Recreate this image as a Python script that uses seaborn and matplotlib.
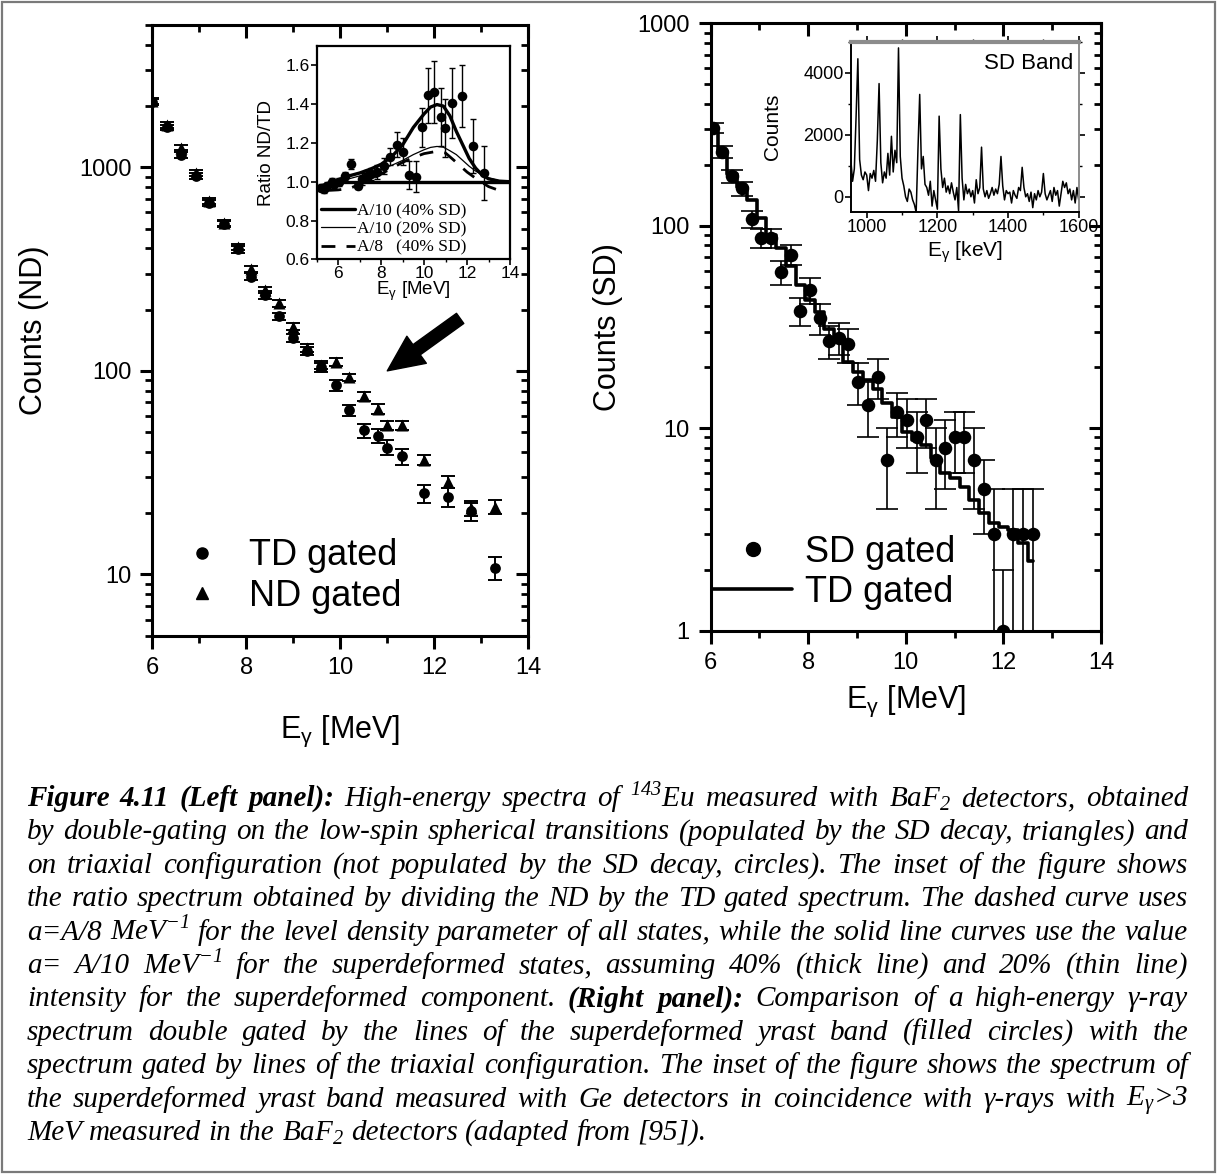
import numpy as np
import matplotlib
matplotlib.use("Agg")
import matplotlib.pyplot as plt
import seaborn as sns
from matplotlib.ticker import MultipleLocator, LogLocator, NullFormatter, FixedLocator
from matplotlib.lines import Line2D
from matplotlib.patches import Rectangle

# ---------------- left panel: high-energy spectra (ND vs TD gated) ----------------
e_left = [6.0, 6.31, 6.6, 6.92, 7.2, 7.52, 7.82, 8.1, 8.4, 8.7, 9.0, 9.3,
          9.59, 9.9, 10.19, 10.5, 10.8, 10.99, 11.31, 11.79, 12.3, 12.78, 13.3]
td_counts = [2090, 1570, 1150, 910, 670, 525, 395, 290, 236, 185, 145, 125,
             104, 85, 64, 51, 48, 42, 38, 25, 24, 20.4, 10.8]
td_err = [70, 50, 40, 30, 22, 18, 14, 11, 10, 8, 7, 6,
          5, 5, 4, 4, 4, 3.5, 3.5, 2.5, 2.5, 2.0, 1.4]
nd_counts = [2110, 1610, 1250, 940, 685, 535, 405, 318, 250, 215, 165, 130,
             107, 111, 93, 75, 65, 54, 54, 36.6, 28.6, 21.1, 21.5]
nd_err = [70, 50, 40, 30, 22, 18, 14, 11, 9, 8, 7, 6,
          5, 5, 4, 4, 3.5, 3, 3, 2, 2, 1.8, 1.6]

# inset: ND/TD ratio with statistical-model curves
ratio_e = [5.2, 5.35, 5.5, 5.69, 5.81, 6.05, 6.32, 6.59, 6.9, 7.13, 7.36, 7.54, 7.82, 8.13,
           8.41, 8.72, 9.01, 9.32, 9.61, 9.91, 10.19, 10.45, 10.79, 10.99, 11.3, 11.76, 12.27, 12.81]
ratio_val = [0.97, 0.96, 0.98, 1.0, 0.99, 1.0, 1.03, 1.09, 0.98, 1.015, 1.03, 1.04, 1.05, 1.08,
             1.13, 1.19, 1.155, 1.035, 1.025, 1.28, 1.445, 1.465, 1.335, 1.275, 1.405, 1.44, 1.185, 1.045]
ratio_err = [0.02, 0.02, 0.02, 0.02, 0.02, 0.02, 0.02, 0.025, 0.02, 0.03, 0.03, 0.03, 0.035, 0.04,
             0.045, 0.065, 0.07, 0.07, 0.08, 0.1, 0.14, 0.16, 0.15, 0.15, 0.18, 0.16, 0.14, 0.14]

curve_e = [5.0, 5.5, 6.0, 6.5, 7.0, 7.5, 8.0, 8.5, 9.0, 9.5, 10.0, 10.3,
           10.6, 10.9, 11.2, 11.5, 11.8, 12.1, 12.4, 12.7, 13.0, 13.5, 14.0]
a10_sd40 = [0.97, 0.99, 1.01, 1.03, 1.045, 1.065, 1.09, 1.13, 1.19, 1.28, 1.35, 1.385,
            1.398, 1.39, 1.34, 1.26, 1.19, 1.12, 1.07, 1.035, 1.015, 1.003, 1.0]
a10_sd20 = [0.97, 0.985, 1.0, 1.015, 1.03, 1.045, 1.065, 1.085, 1.11, 1.14, 1.165, 1.177,
            1.182, 1.178, 1.16, 1.14, 1.11, 1.08, 1.055, 1.035, 1.02, 1.005, 1.0]
a8_e = [5.5, 6.0, 6.5, 7.0, 7.5, 8.0, 8.5, 9.0, 9.5, 10.0, 10.5, 11.0, 11.5, 12.0, 12.5, 13.0, 13.5]
a8_sd40 = [0.955, 0.958, 0.965, 0.985, 1.01, 1.04, 1.07, 1.10, 1.125, 1.145, 1.155, 1.148,
           1.10, 1.05, 1.01, 0.975, 0.955]
unity_e = [6.0, 14.0]
unity_val = [1.0, 1.0]

# ---------------- right panel: SD gated spectrum vs TD gated ----------------
e_right = [6.04, 6.24, 6.44, 6.64, 6.84, 7.04, 7.24, 7.44, 7.64, 7.84, 8.04, 8.24,
           8.42, 8.62, 8.82, 9.02, 9.22, 9.42, 9.62, 9.82, 10.02, 10.22, 10.42, 10.62,
           10.8, 11.0, 11.2, 11.4, 11.6, 11.8, 12.0, 12.2, 12.4, 12.6]
sd_counts = [303, 232, 176, 153, 108, 87, 87, 59, 72, 38, 48, 35,
             27, 28, 26, 17, 13, 18, 7, 12, 11, 9, 11, 7,
             8, 9, 9, 7, 5, 3, 1, 3, 3, 3]
sd_err = [17, 15, 13, 12, 10, 9, 9, 8, 8, 6, 7, 6,
          5, 5, 5, 4, 4, 4, 3, 3, 3, 3, 3, 3,
          3, 3, 3, 3, 2, 2, 1, 2, 2, 2]
td_scaled = [290, 235, 181, 155, 134, 109, 90, 78, 63, 51, 43, 37.6,
             31, 27, 21.3, 18.9, 17.4, 15.7, 13.3, 11.3, 9.6, 8.7, 8.3, 7.1,
             6.0, 5.7, 5.1, 4.4, 3.8, 3.4, 3.26, 3.14, 2.7, 2.2]

# inset: Ge spectrum of the SD band (5 keV channels from 955 keV)
spec_start_kev = 955
spec_step_kev = 5
spec_counts = [
    1200, 500, 900, 2600, 4450, 1200, 700, 550, 800, 700,
    200, 750, 600, 850, 500, 1800, 3650, 1100, 450, 800,
    600, 1400, 700, 1950, 800, 1500, 1100, 4800, 1300, 600,
    350, 0, -150, 250, 150, -100, -250, -500, 1500, 3300,
    900, 1300, 400, 300, 50, 500, -300, 200, -100, -400,
    2600, 900, 300, 600, 150, 350, 100, 450, 150, -100,
    300, -450, 2650, 600, -100, 400, 100, 250, 0, 200,
    -200, 550, 100, 300, 1600, 250, 0, 200, -50, 100,
    300, 50, 250, 100, 400, 1300, 350, -100, 200, 100,
    150, -200, 200, 50, -50, 300, 200, 950, 300, 0,
    100, -150, 150, -350, 100, -100, 200, 0, 150, 750,
    100, -100, 50, 200, -150, 300, 50, 200, -300, 100,
    500, 300, 450, 100, 250, -100, 200, -200, 300, -100]
spec_kev = spec_start_kev + spec_step_kev * np.arange(len(spec_counts))

# ---------------- caption ----------------
caption_lines = [
    [("Figure 4.11 (Left panel):", True),
     (" High-energy spectra of $^\\mathregular{143}$Eu measured with BaF$_\\mathregular{2}$ detectors, obtained", False)],
    [("by double-gating on the low-spin spherical transitions (populated by the SD decay, triangles) and", False)],
    [("on triaxial configuration (not populated by the SD decay, circles). The inset of the figure shows", False)],
    [("the ratio spectrum obtained by dividing the ND by the TD gated spectrum. The dashed curve uses", False)],
    [("a=A/8 MeV$^\\mathregular{-1}$ for the level density parameter of all states, while the solid line curves use the value", False)],
    [("a= A/10 MeV$^\\mathregular{-1}$ for the superdeformed states, assuming 40% (thick line) and 20% (thin line)", False)],
    [("intensity for the superdeformed component.", False), ("(Right panel):", True),
     ("Comparison of a high-energy γ-ray", False)],
    [("spectrum double gated by the lines of the superdeformed yrast band (filled circles) with the", False)],
    [("spectrum gated by lines of the triaxial configuration. The inset of the figure shows the spectrum of", False)],
    [("the superdeformed yrast band measured with Ge detectors in coincidence with γ-rays with E$_\\mathregular{γ}$>3", False)],
    [("MeV measured in the BaF$_\\mathregular{2}$ detectors (adapted from [95]).", False)],
]

sns.set_style("ticks")
plt.rcParams["font.family"] = ["Liberation Sans", "DejaVu Sans"]
plt.rcParams["axes.linewidth"] = 2.2
plt.rcParams["axes.edgecolor"] = "black"
plt.rcParams["xtick.color"] = "black"
plt.rcParams["ytick.color"] = "black"
plt.rcParams["text.color"] = "black"
plt.rcParams["axes.labelcolor"] = "black"

W, H = 1217, 1176
fig = plt.figure(figsize=(W / 100, H / 100), dpi=100)


def px_axes(x0, y0, x1, y1):
    return fig.add_axes([x0 / W, 1 - y1 / H, (x1 - x0) / W, (y1 - y0) / H])


def mirror_ticks(ax, xmaj, xmin, ylim):
    tx = ax.twiny()
    tx.set_xlim(ax.get_xlim())
    tx.xaxis.set_major_locator(MultipleLocator(xmaj))
    tx.xaxis.set_minor_locator(MultipleLocator(xmin))
    tx.tick_params(axis="x", which="both", direction="in", top=True, bottom=False,
                   labeltop=False, labelbottom=False)
    tx.tick_params(axis="x", which="major", length=9, width=2.2)
    tx.tick_params(axis="x", which="minor", length=5, width=2.0)
    ty = ax.twinx()
    ty.set_yscale("log")
    ty.set_ylim(ylim)
    ty.yaxis.set_major_locator(LogLocator(base=10))
    ty.yaxis.set_minor_locator(LogLocator(base=10, subs=range(2, 10)))
    ty.yaxis.set_minor_formatter(NullFormatter())
    ty.tick_params(axis="y", which="both", direction="in", right=True, left=False,
                   labelright=False, labelleft=False)
    ty.tick_params(axis="y", which="major", length=9, width=2.2)
    ty.tick_params(axis="y", which="minor", length=5, width=2.0)
    for t in (tx, ty):
        for s in t.spines.values():
            s.set_visible(False)


def style_main(ax, yticks, ylim):
    ax.set_xlim(6, 14)
    ax.set_yscale("log")
    ax.set_ylim(ylim)
    mirror_ticks(ax, 2, 1, ylim)
    ax.xaxis.set_major_locator(MultipleLocator(2))
    ax.xaxis.set_minor_locator(MultipleLocator(1))
    ax.yaxis.set_major_locator(FixedLocator(yticks))
    ax.set_yticklabels([str(t) for t in yticks])
    ax.yaxis.set_minor_locator(LogLocator(base=10, subs=range(2, 10)))
    ax.yaxis.set_minor_formatter(NullFormatter())
    ax.tick_params(which="both", direction="out", top=False, right=False, labelsize=17)
    ax.tick_params(which="major", length=9, width=2.2, pad=6)
    ax.tick_params(which="minor", length=5, width=2.0)
    for s in ax.spines.values():
        s.set_visible(True)
        s.set_linewidth(2.2)


# ---- left main panel ----
axL = px_axes(152.3, 25, 528.3, 635.7)
style_main(axL, [10, 100, 1000], (5, 5000))
axL.errorbar(e_left, td_counts, yerr=td_err, fmt="none", ecolor="black",
             elinewidth=1.4, capsize=5, capthick=1.4, zorder=2)
axL.errorbar(e_left, nd_counts, yerr=nd_err, fmt="none", ecolor="black",
             elinewidth=1.4, capsize=5, capthick=1.4, zorder=2)
sns.scatterplot(x=e_left, y=td_counts, marker="o", s=60, color="black",
                edgecolor="black", linewidth=0, ax=axL, zorder=3)
sns.scatterplot(x=e_left, y=nd_counts, marker="^", s=75, color="black",
                edgecolor="black", linewidth=0, ax=axL, zorder=3)
axL.set_xlabel("E$_\\mathregular{γ}$ [MeV]", fontsize=22)
axL.set_ylabel("Counts (ND)", fontsize=22)
axL.xaxis.set_label_coords(0.5, -0.128)
axL.yaxis.set_label_coords(-0.275, 0.5)
axL.annotate("", xy=(11.0, 100), xytext=(12.55, 181),
             arrowprops=dict(arrowstyle="simple,head_length=1.3,head_width=1.2,tail_width=0.45",
                             mutation_scale=20, color="black", shrinkA=0, shrinkB=0))
handles_l = [Line2D([], [], marker="o", ls="none", color="black", markersize=8),
             Line2D([], [], marker="^", ls="none", color="black", markersize=9)]
axL.legend(handles_l, ["TD gated", "ND gated"], loc="center left",
           bbox_to_anchor=(0.085, 0.098), frameon=False, fontsize=26,
           handlelength=1.0, handletextpad=0.8, labelspacing=0.15,
           borderpad=0, borderaxespad=0)

# ---- left inset: ratio ----
axI = px_axes(316.7, 46, 510, 259.3)
axI.set_zorder(5)
axI.errorbar(ratio_e, ratio_val, yerr=ratio_err, fmt="none", ecolor="black",
             elinewidth=1.0, capsize=2.5, capthick=1.0, zorder=2)
sns.scatterplot(x=ratio_e, y=ratio_val, marker="o", s=48, color="black",
                linewidth=0, ax=axI, zorder=3)
sns.lineplot(x=unity_e, y=unity_val, color="black", lw=2.4, ax=axI, errorbar=None)
sns.lineplot(x=curve_e, y=a10_sd40, color="black", lw=2.4, ax=axI, errorbar=None)
sns.lineplot(x=curve_e, y=a10_sd20, color="black", lw=0.9, ax=axI, errorbar=None)
sns.lineplot(x=a8_e, y=a8_sd40, color="black", lw=2.0, ax=axI, errorbar=None,
             dashes=False, linestyle=(0, (5, 4)))
axI.set_xlim(5, 14)
axI.set_ylim(0.6, 1.7)
axI.xaxis.set_major_locator(MultipleLocator(2))
axI.xaxis.set_minor_locator(MultipleLocator(1))
axI.yaxis.set_major_locator(FixedLocator([0.6, 0.8, 1.0, 1.2, 1.4, 1.6]))
axI.set_yticklabels(["0.6", "0.8", "1.0", "1.2", "1.4", "1.6"])
axI.tick_params(which="both", direction="out", labelsize=12.5, pad=1)
axI.tick_params(which="major", length=4, width=1.2)
axI.tick_params(which="minor", length=2.5, width=1.0)
for s in axI.spines.values():
    s.set_visible(True)
    s.set_linewidth(1.6)
axI.set_xlabel("E$_\\mathregular{γ}$ [MeV]", fontsize=13.5, labelpad=0)
axI.set_ylabel("Ratio ND/TD", fontsize=13.5)
axI.xaxis.set_label_coords(0.5, -0.095)
axI.yaxis.set_label_coords(-0.215, 0.5)
handles_i = [Line2D([], [], color="black", lw=2.4),
             Line2D([], [], color="black", lw=0.9),
             Line2D([], [], color="black", lw=2.0, ls=(0, (5, 4)))]
axI.legend(handles_i, ["A/10 (40% SD)", "A/10 (20% SD)", "A/8   (40% SD)"],
           loc="center left", bbox_to_anchor=(0.02, 0.14), frameon=False,
           prop={"family": "Liberation Serif", "size": 12.5},
           handlelength=2.0, handletextpad=0.1, labelspacing=0.12,
           borderpad=0, borderaxespad=0)

# ---- right main panel ----
axR = px_axes(710.7, 23.3, 1101, 630.7)
style_main(axR, [1, 10, 100, 1000], (1, 1000))
sns.lineplot(x=e_right, y=td_scaled, color="black", lw=2.6, ax=axR,
             errorbar=None, drawstyle="steps-mid", zorder=2)
axR.errorbar(e_right, sd_counts, yerr=sd_err, fmt="none", ecolor="black",
             elinewidth=1.2, capsize=8, capthick=1.2, zorder=3)
sns.scatterplot(x=e_right, y=sd_counts, marker="o", s=95, color="black",
                linewidth=0, ax=axR, zorder=4)
axR.set_xlabel("E$_\\mathregular{γ}$ [MeV]", fontsize=22)
axR.set_ylabel("Counts (SD)", fontsize=22)
axR.xaxis.set_label_coords(0.5, -0.087)
axR.yaxis.set_label_coords(-0.225, 0.5)
handles_r = [Line2D([], [], marker="o", ls="none", color="black", markersize=10),
             Line2D([], [], color="black", lw=2.6)]
axR.legend(handles_r, ["SD gated", "TD gated"], loc="center left",
           bbox_to_anchor=(0.006, 0.096), frameon=False, fontsize=26,
           handlelength=2.2, handletextpad=0.35, labelspacing=0.15,
           borderpad=0, borderaxespad=0)

# ---- right inset: SD band spectrum ----
axS = px_axes(850.8, 41.7, 1078.7, 212.3)
axS.set_zorder(5)
sns.lineplot(x=spec_kev, y=spec_counts, color="black", lw=1.1, ax=axS, errorbar=None)
axS.set_xlim(955, 1600)
axS.set_ylim(-500, 5000)
axS.xaxis.set_major_locator(MultipleLocator(200))
axS.xaxis.set_minor_locator(MultipleLocator(100))
axS.yaxis.set_major_locator(FixedLocator([0, 2000, 4000]))
axS.yaxis.set_minor_locator(MultipleLocator(1000))
axS.set_yticklabels(["0", "2000", "4000"])
axS.tick_params(which="both", direction="out", labelsize=13, pad=1,
                top=True, right=True)
axS.tick_params(which="major", length=4, width=1.2)
axS.tick_params(which="minor", length=2.5, width=1.0)
for s in axS.spines.values():
    s.set_visible(True)
    s.set_linewidth(1.4)
axS.spines["top"].set_color("#8c8c8c")
axS.spines["top"].set_linewidth(3)
axS.spines["right"].set_color("#8c8c8c")
axS.set_xlabel("E$_\\mathregular{γ}$ [keV]", fontsize=15)
axS.set_ylabel("Counts", fontsize=15)
axS.xaxis.set_label_coords(0.5, -0.16)
axS.yaxis.set_label_coords(-0.3, 0.5)
axS.text(0.975, 0.87, "SD Band", transform=axS.transAxes, ha="right", va="center",
         fontsize=16)

# ---- outer frame ----
fig.patches.append(Rectangle((1.5 / W, 4 / H), (W - 3.5) / W, (H - 6) / H,
                             transform=fig.transFigure, fill=False,
                             edgecolor="#7a7a7a", linewidth=1.6))

# ---- caption, set justified between two margins ----
renderer = fig.canvas.get_renderer()
cap_x0, cap_x1 = 27 / W, 1188 / W
cap_size = 21
cap_first_baseline = 806
cap_step = 33.4
for i, line in enumerate(caption_lines):
    y = 1 - (cap_first_baseline + i * cap_step) / H
    words = []
    for text, bold in line:
        for w in text.split():
            words.append((w, bold))
    arts, widths = [], []
    for w, bold in words:
        t = fig.text(0, y, w, fontsize=cap_size, family="Liberation Serif",
                     style="italic", weight="bold" if bold else "normal",
                     ha="left", va="baseline")
        bb = t.get_window_extent(renderer)
        arts.append(t)
        widths.append(bb.width / W)
    last = i == len(caption_lines) - 1
    if last or len(words) < 2:
        gap = 0.25 * cap_size * 100 / 72 / W
    else:
        gap = (cap_x1 - cap_x0 - sum(widths)) / (len(words) - 1)
    x = cap_x0
    for t, wd in zip(arts, widths):
        t.set_x(x)
        x += wd + gap

fig.savefig("out.png", dpi=100)
